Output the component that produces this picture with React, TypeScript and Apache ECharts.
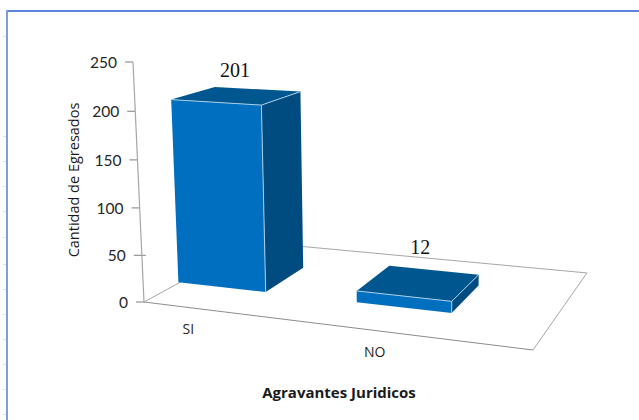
import React, { useEffect, useRef } from "react";
import * as echarts from "echarts";

const categories = ["SI", "NO"];
const values = [201, 12];
const axisTicks = [0, 50, 100, 150, 200, 250];
const rulerMarks = [36, 136, 161, 186, 211, 237, 264, 289, 314, 339, 364, 389, 414];

const yAxisTitle = "Cantidad de Egresados";
const xAxisTitle = "Agravantes Juridicos";

const GRID = { left: 144, top: 62, width: 389, height: 240 };
const VMAX = 250;
const SANS = "Lato, 'Open Sans', sans-serif";
const WIDE = "'Open Sans', Lato, sans-serif";
const TEXT = "#262626";
const LINE = "#a6a6a6";
const FRONT = "#006fc0";
const SIDE = "#004b80";
const TOP = "#00568f";
const EDGE = "#a9cde8";

// unit floor square (u along the categories, w into the depth) -> page pixels
const H = { a: 312.4, b: 158.6, c: 144, d: -2.3, e: -13.7, f: 302, g: -0.1437, h: 0.1915 };
function floor(u: number, w: number): [number, number] {
  const q = H.g * u + H.h * w + 1;
  return [(H.a * u + H.b * w + H.c) / q, (H.d * u + H.e * w + H.f) / q];
}
// a vertical of the given value standing at a floor point
function raise(p: [number, number], px: number): [number, number] {
  const k = 0.948 + (p[1] - 283) * 0.0023;
  const h = px * k;
  const tilt = 0.046 - (p[0] - 144) * 0.00019;
  return [p[0] - h * tilt, p[1] - h];
}
const line = (a: number[], b: number[], stroke: string, lineWidth = 1) => ({
  type: "line",
  shape: { x1: a[0], y1: a[1], x2: b[0], y2: b[1] },
  style: { stroke, lineWidth, fill: "none" },
  silent: true,
});
const poly = (points: number[][], fill: string) => ({
  type: "polygon",
  shape: { points },
  style: { fill, stroke: "none" },
  silent: true,
});
const label = (text: string, x: number, y: number, font: string, fill = TEXT, align = "center") => ({
  type: "text",
  style: { text, x, y, font, fill, align, verticalAlign: "middle" },
  silent: true,
});

export default function App() {
  const ref = useRef<HTMLDivElement>(null);
  useEffect(() => {
    const chart = echarts.init(ref.current!, null, { renderer: "svg" });
    const graphic: any[] = [
      line([7, 11], [639, 11], "#5b86db", 2),
      line([7, 10], [7, 420], "#7f9fdc", 2),
      ...rulerMarks.map((y) => line([3, y + 0.5], [6, y + 0.5], "#e2e2e2", 1)),
      { ...label(xAxisTitle, 339, 392, `bold 15px ${WIDE}`, "#1a1a1a"), z: 5 },
      { ...label(yAxisTitle, 0, 0, `14.5px ${WIDE}`, "#1a1a1a"), x: 73, y: 180, rotation: Math.PI / 2, z: 5 },
    ];
    chart.setOption({
      animation: false,
      backgroundColor: "#ffffff",
      grid: { ...GRID, containLabel: false },
      xAxis: { type: "category", data: categories, show: false },
      yAxis: { type: "value", min: 0, max: VMAX, interval: 50, show: false },
      graphic,
      series: [
        {
          type: "custom",
          coordinateSystem: "cartesian2d",
          silent: true,
          clip: false,
          data: categories.map((c, i) => [i]),
          renderItem: (_: any, api: any) => {
            const c = floor(api.value(0) * 0.5 + 0.1275, 0);
            const children: any[] = [
              label(categories[api.value(0)], c[0] + 1, c[1] + 21, `14px ${WIDE}`),
            ];
            return { type: "group", children };
          },
        },
        {
          type: "custom",
          coordinateSystem: "cartesian2d",
          silent: true,
          clip: false,
          data: axisTicks.map((v) => [0, v]),
          renderItem: (_: any, api: any) => {
            const v = api.value(1);
            const t = v / VMAX;
            const y = api.coord([0, v])[1] + 8 * t * (1 - t);
            const x = GRID.left - 11 * t;
            const children: any[] = [
              line([x - 8, y], [x + (v === 50 ? 4 : 0), y], "#7f7f7f"),
              label(String(v), x - 16, y, `15.5px ${SANS}`, TEXT, "right"),
            ];
            return { type: "group", children };
          },
        },
        {
          type: "custom",
          coordinateSystem: "cartesian2d",
          silent: true,
          clip: false,
          data: [[0]],
          renderItem: () => {
            const fl = floor(0, 0);
            const fr = floor(1, 0);
            const br = floor(1, 1);
            const bl = floor(0, 1);
            const top = raise(fl, 0);
            return {
              type: "group",
              children: [
                line([top[0], top[1]], [GRID.left - 11, GRID.top], LINE, 1.2),
                line(fl, fr, "#8c8c8c", 1),
                line(fr, br, LINE, 1),
                line(br, bl, LINE, 1),
                line(bl, fl, LINE, 1),
              ],
            };
          },
        },
        {
          type: "custom",
          coordinateSystem: "cartesian2d",
          silent: true,
          clip: false,
          data: values.map((v, i) => [i, v]),
          renderItem: (_: any, api: any) => {
            const i = api.value(0);
            const v = api.value(1);
            const px = api.size([0, v])[1];
            const u0 = -0.005 + i * 0.518;
            const u1 = 0.258 + i * 0.502;
            const [w0, w1] = [0.29, 0.67];
            const b1 = floor(u0, w0);
            const b2 = floor(u1, w0);
            const b3 = floor(u1, w1);
            const b4 = floor(u0, w1);
            const t1 = raise(b1, px);
            const t2 = raise(b2, px);
            const t3 = raise(b3, px);
            const t4 = raise(b4, px);
            const mx = (t1[0] + t2[0] + t3[0] + t4[0]) / 4;
            return {
              type: "group",
              children: [
                poly([b2, b3, t3, t2], SIDE),
                poly([b1, b2, t2, t1], FRONT),
                poly([t1, t2, t3, t4], TOP),
                line(t1, t2, EDGE, 1),
                line(t2, t3, EDGE, 1),
                line(t2, b2, EDGE, 1),
                label(
                  String(v),
                  mx - 2 + i * 3,
                  t4[1] - 17 - i * 2,
                  "20px 'Liberation Serif', 'Times New Roman', serif",
                  "#111111",
                ),
              ],
            };
          },
        },
      ],
    });
    return () => chart.dispose();
  }, []);
  return (
    <div
      ref={ref}
      style={{ position: "fixed", left: 0, top: 0, width: 639, height: 420 }}
    />
  );
}
